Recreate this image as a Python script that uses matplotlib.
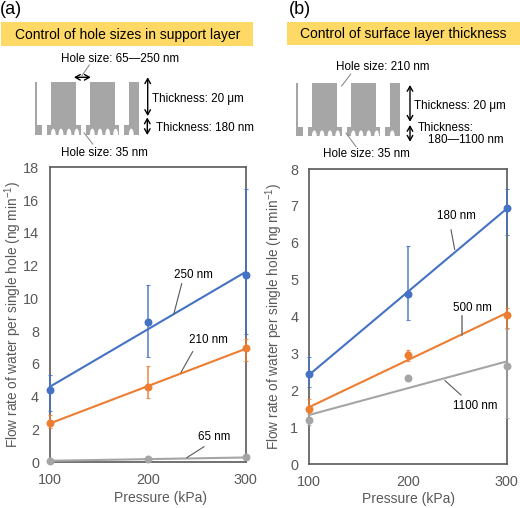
import numpy as np
import matplotlib
matplotlib.use('Agg')
from matplotlib import pyplot as plt
from matplotlib.patches import Rectangle, Ellipse

plt.rcParams['font.family'] = ['Liberation Sans', 'DejaVu Sans']
plt.rcParams['mathtext.default'] = 'regular'

pressure = [100, 200, 300]

# (a) hole sizes
a_250 = [4.4, 8.55, 11.4]
a_250_low = [3.1, 6.4, 7.8]
a_250_high = [5.3, 10.8, 16.7]
a_210 = [2.4, 4.6, 6.95]
a_210_low = [2.1, 3.9, 6.2]
a_210_high = [2.9, 5.9, 7.5]
a_65 = [0.1, 0.18, 0.3]
a_65_low = [0.05, 0.12, 0.22]
a_65_high = [0.15, 0.24, 0.38]

# (b) surface layer thickness
b_180 = [2.45, 4.62, 6.95]
b_180_low = [2.1, 3.9, 6.2]
b_180_high = [2.9, 5.9, 7.45]
b_500 = [1.48, 2.95, 4.03]
b_500_low = [1.25, 2.8, 3.7]
b_500_high = [1.75, 3.1, 4.22]
b_1100 = [1.2, 2.32, 2.65]
b_1100_low = [1.05, 2.25, 1.25]
b_1100_high = [1.35, 2.4, 3.65]

BLUE = '#4472C4'
ORANGE = '#ED7D31'
GREY = '#A5A5A5'
TXT = '#595959'
W, H = 520, 508


def make_axes(fig, x0, x1, y0, y1):
    return fig.add_axes([x0 / W, 1 - y1 / H, (x1 - x0) / W, (y1 - y0) / H])


def draw_series(ax, y, low, high, color):
    y = np.array(y)
    err = [y - np.array(low), np.array(high) - y]
    ax.errorbar(pressure, y, yerr=err, fmt='none', ecolor=color, elinewidth=1.2,
                capsize=1.5, capthick=0.8, alpha=0.85, clip_on=False, zorder=3)
    ax.plot(pressure, y, 'o', color=color, ms=4.7, clip_on=False, zorder=5)
    fit = np.polyval(np.polyfit(pressure, y, 1), pressure)
    ax.plot(pressure, fit, color=color, lw=1.5, clip_on=False, zorder=4)


def style_axes(ax, ymax, xlab_x, xlab_y, ylab_x):
    ax.set_xlim(100, 300)
    ax.set_ylim(0, ymax)
    ax.set_xticks(pressure)
    ax.tick_params(length=0, labelsize=10.4, labelcolor=TXT, pad=8)
    for s in ax.spines.values():
        s.set_color('#595959')
        s.set_linewidth(1.2)
    ax.set_xlabel('Pressure (kPa)', fontsize=10, color=TXT, va='center')
    ax.set_ylabel('Flow rate of water per single hole (ng min$^{-1}$)', fontsize=9.8,
                  color=TXT, va='center')
    ax.xaxis.set_label_coords(xlab_x, xlab_y)
    ax.yaxis.set_label_coords(ylab_x, 0.5)


def leader(ax, x, y, color='#595959', lw=0.8):
    ax.plot(x, y, color=color, lw=lw, zorder=6)


def schematic(ov, dx, dy):
    g = '#A6A6A6'
    # pillars of the support layer
    for x0, x1 in [(35, 37.3), (51, 75.7), (90, 114.7), (129, 138.5)]:
        ov.add_patch(Rectangle((x0 + dx, 81.5 + dy), x1 - x0, 44, fc=g, ec='none'))
    # surface layer with small holes
    for x0, x1 in [(35, 41.7), (46.7, 80.7), (85.7, 119.3), (124, 138.5)]:
        ov.add_patch(Rectangle((x0 + dx, 125 + dy), x1 - x0, 9.7, fc=g, ec='none'))
    for cx in [53.3, 61, 69, 76.7, 92.3, 100, 107.7, 115.7, 131.3]:
        ov.add_patch(Ellipse((cx + dx, 134.7 + dy), 4.8, 12, fc='white', ec='none'))
    ov.add_patch(Rectangle((30 + dx, 134.8 + dy), 112, 8, fc='white', ec='none'))


def arrow(ov, p0, p1, lw=1.0):
    ov.annotate('', xy=p1, xytext=p0,
                arrowprops=dict(arrowstyle='<->,head_length=0.35,head_width=0.2', color='black',
                                lw=lw, shrinkA=0, shrinkB=0))


fig = plt.figure(figsize=(W / 100, H / 100), dpi=100)
ov = fig.add_axes([0, 0, 1, 1], zorder=0)
ov.set_xlim(0, W)
ov.set_ylim(H, 0)
ov.axis('off')

# headers
ov.add_patch(Rectangle((1, 22), 252, 23.5, fc='#FFD966', ec='none'))
ov.add_patch(Rectangle((287, 21.7), 233, 23.5, fc='#FFD966', ec='none'))
ov.text(0, 10, '(a)', fontsize=13, va='center', ha='left')
ov.text(289, 9, '(b)', fontsize=13, va='center', ha='left')
ov.text(127.2, 34.5, 'Control of hole sizes in support layer', fontsize=10, ha='center', va='center')
ov.text(403.7, 34, 'Control of surface layer thickness', fontsize=10, ha='center', va='center')

# schematic (a)
schematic(ov, 0, 0)
fs = 8.4
ov.text(120, 59, 'Hole size: 65\u2014250 nm', fontsize=fs, ha='center', va='center')
ov.text(152.3, 99, 'Thickness: 20 \u03bcm', fontsize=fs, va='center')
ov.text(155.7, 128, 'Thickness: 180 nm', fontsize=fs, va='center')
ov.text(104.5, 152.7, 'Hole size: 35 nm', fontsize=fs, ha='center', va='center')
arrow(ov, (74, 77.3), (90.7, 77.3))
arrow(ov, (147.7, 77.3), (147.7, 116))
arrow(ov, (147.3, 117.5), (147.3, 135))
ov.plot([89.3, 81.7], [65, 76], color='#7F7F7F', lw=0.7)
ov.plot([84, 92.7], [132.7, 144], color='#7F7F7F', lw=0.7)

# schematic (b)
schematic(ov, 261, 1.7)
ov.text(382.7, 66.7, 'Hole size: 210 nm', fontsize=fs, ha='center', va='center')
ov.text(414.3, 105.7, 'Thickness: 20 \u03bcm', fontsize=fs, va='center')
ov.text(417.3, 128.3, 'Thickness:', fontsize=fs, va='center')
ov.text(427.7, 140, '180\u20141100 nm', fontsize=fs, va='center')
ov.text(366, 154, 'Hole size: 35 nm', fontsize=fs, ha='center', va='center')
arrow(ov, (410, 85), (410, 121.7))
arrow(ov, (410, 125), (410, 141.7))
ov.plot([350.7, 341.7], [74, 86], color='#7F7F7F', lw=0.7)
ov.plot([346, 356], [133, 146.7], color='#7F7F7F', lw=0.7)

# panel a
ax = make_axes(fig, 50, 245.7, 167.3, 462.3)
ax.patch.set_alpha(0)
draw_series(ax, a_65, a_65_low, a_65_high, GREY)
draw_series(ax, a_210, a_210_low, a_210_high, ORANGE)
draw_series(ax, a_250, a_250_low, a_250_high, BLUE)
style_axes(ax, 18, 0.567, -0.122, -0.19)
ax.set_yticks(range(0, 19, 2))
leader(ax, [234.6, 226.7], [10.9, 9.09])
leader(ax, [245.8, 233.9], [6.75, 5.49])
leader(ax, [257.4, 239.7], [0.95, 0.28])
ax.text(247, 11.4, '250 nm', fontsize=8.4, ha='center', va='center')
ax.text(261.5, 7.47, '210 nm', fontsize=8.4, ha='center', va='center')
ax.text(268, 1.525, '65 nm', fontsize=8.4, ha='center', va='center')

# panel b
bx = make_axes(fig, 309.3, 506.7, 169, 464)
bx.patch.set_alpha(0)
draw_series(bx, b_1100, b_1100_low, b_1100_high, GREY)
draw_series(bx, b_500, b_500_low, b_500_high, ORANGE)
draw_series(bx, b_180, b_180_low, b_180_high, BLUE)
style_axes(bx, 8, 0.5, -0.12, -0.178)
bx.set_yticks(range(0, 9))
leader(bx, [243.6, 247.3], [6.35, 5.82])
leader(bx, [254.4, 254.4], [4.02, 3.5], color='#7F7F7F', lw=1.2)
leader(bx, [253.7, 237.5], [1.87, 2.26])
bx.text(249.3, 6.725, '180 nm', fontsize=8.4, ha='center', va='center')
bx.text(265.2, 4.22, '500 nm', fontsize=8.4, ha='center', va='center')
bx.text(268.6, 1.58, '1100 nm', fontsize=8.4, ha='center', va='center')

fig.savefig('out.png', dpi=100)
